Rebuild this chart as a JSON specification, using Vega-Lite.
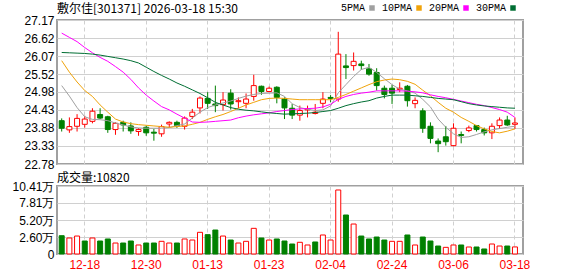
{
  "$schema": "https://vega.github.io/schema/vega-lite/v6.json",
  "padding": {"left": 6, "top": 2, "right": 0, "bottom": 0},
  "background": "#ffffff",
  "spacing": 0,
  "config": {
    "view": {"stroke": "#a0a0a0", "strokeWidth": 2},
    "font": "Liberation Sans",
    "axis": {"gridColor": "#d0d0d0", "gridWidth": 1, "domain": false, "ticks": false, "labelColor": "#000000", "labelFontSize": 12, "labelFont": "Liberation Sans", "labelFlush": false, "labelOverlap": false}
  },
  "datasets": {
    "k": [
      {"t":"12-15","o":24.10,"h":24.17,"l":23.77,"c":23.87,"v":28000,"vd":"down","5PMA":25.17,"10PMA":25.93,"20PMA":26.77,"30PMA":26.18},
      {"t":"12-16","o":23.82,"h":24.20,"l":23.73,"c":23.92,"v":24500,"vd":"up","5PMA":24.85,"10PMA":25.58,"20PMA":26.64,"30PMA":26.17},
      {"t":"12-17","o":23.93,"h":24.30,"l":23.77,"c":24.17,"v":27500,"vd":"up","5PMA":24.50,"10PMA":25.28,"20PMA":26.51,"30PMA":26.16},
      {"t":"12-18","o":23.99,"h":24.25,"l":23.89,"c":24.15,"v":19900,"vd":"down","5PMA":24.22,"10PMA":25.02,"20PMA":26.33,"30PMA":26.15},
      {"t":"12-19","o":24.08,"h":24.48,"l":24.02,"c":24.39,"v":24500,"vd":"up","5PMA":24.14,"10PMA":24.84,"20PMA":26.17,"30PMA":26.13},
      {"t":"12-22","o":24.29,"h":24.48,"l":24.15,"c":24.18,"v":19900,"vd":"down","5PMA":24.13,"10PMA":24.58,"20PMA":26.03,"30PMA":26.10},
      {"t":"12-23","o":24.22,"h":24.25,"l":23.73,"c":23.83,"v":23000,"vd":"down","5PMA":24.10,"10PMA":24.36,"20PMA":25.91,"30PMA":26.06},
      {"t":"12-24","o":23.83,"h":24.05,"l":23.67,"c":24.02,"v":16800,"vd":"up","5PMA":24.03,"10PMA":24.15,"20PMA":25.75,"30PMA":26.02},
      {"t":"12-25","o":24.05,"h":24.10,"l":23.77,"c":23.97,"v":16800,"vd":"down","5PMA":23.97,"10PMA":24.06,"20PMA":25.58,"30PMA":25.98},
      {"t":"12-26","o":23.94,"h":24.05,"l":23.70,"c":23.79,"v":19900,"vd":"down","5PMA":23.91,"10PMA":24.01,"20PMA":25.36,"30PMA":25.93},
      {"t":"12-29","o":23.77,"h":23.87,"l":23.64,"c":23.83,"v":13800,"vd":"up","5PMA":23.88,"10PMA":23.98,"20PMA":25.10,"30PMA":25.86},
      {"t":"12-30","o":23.90,"h":23.95,"l":23.64,"c":23.73,"v":16800,"vd":"down","5PMA":23.87,"10PMA":23.96,"20PMA":24.88,"30PMA":25.73},
      {"t":"12-31","o":23.75,"h":23.85,"l":23.49,"c":23.72,"v":16800,"vd":"down","5PMA":23.87,"10PMA":23.94,"20PMA":24.70,"30PMA":25.60},
      {"t":"01-05","o":23.70,"h":23.98,"l":23.61,"c":23.92,"v":19400,"vd":"up","5PMA":23.87,"10PMA":23.92,"20PMA":24.53,"30PMA":25.48},
      {"t":"01-06","o":24.00,"h":24.08,"l":23.89,"c":24.05,"v":16800,"vd":"up","5PMA":23.89,"10PMA":23.90,"20PMA":24.43,"30PMA":25.37},
      {"t":"01-07","o":24.05,"h":24.10,"l":23.88,"c":23.95,"v":16800,"vd":"down","5PMA":23.95,"10PMA":23.92,"20PMA":24.30,"30PMA":25.25},
      {"t":"01-08","o":23.93,"h":24.23,"l":23.83,"c":24.18,"v":23000,"vd":"up","5PMA":24.00,"10PMA":23.94,"20PMA":24.18,"30PMA":25.15},
      {"t":"01-09","o":24.23,"h":24.46,"l":24.15,"c":24.36,"v":21400,"vd":"up","5PMA":24.18,"10PMA":23.99,"20PMA":24.06,"30PMA":25.04},
      {"t":"01-12","o":24.49,"h":24.84,"l":24.32,"c":24.79,"v":33200,"vd":"up","5PMA":24.36,"10PMA":24.05,"20PMA":24.05,"30PMA":24.93},
      {"t":"01-13","o":24.78,"h":24.97,"l":24.46,"c":24.63,"v":29600,"vd":"down","5PMA":24.50,"10PMA":24.14,"20PMA":24.06,"30PMA":24.80},
      {"t":"01-14","o":24.61,"h":25.17,"l":24.36,"c":24.56,"v":36700,"vd":"down","5PMA":24.58,"10PMA":24.22,"20PMA":24.08,"30PMA":24.66},
      {"t":"01-15","o":24.59,"h":24.97,"l":24.41,"c":24.73,"v":27500,"vd":"up","5PMA":24.64,"10PMA":24.29,"20PMA":24.10,"30PMA":24.58},
      {"t":"01-16","o":24.94,"h":25.06,"l":24.44,"c":24.61,"v":21400,"vd":"down","5PMA":24.70,"10PMA":24.38,"20PMA":24.12,"30PMA":24.50},
      {"t":"01-19","o":24.68,"h":24.81,"l":24.48,"c":24.71,"v":16800,"vd":"up","5PMA":24.78,"10PMA":24.48,"20PMA":24.19,"30PMA":24.45},
      {"t":"01-20","o":24.63,"h":24.93,"l":24.48,"c":24.76,"v":19400,"vd":"up","5PMA":24.85,"10PMA":24.58,"20PMA":24.24,"30PMA":24.42},
      {"t":"01-21","o":24.84,"h":25.50,"l":24.71,"c":25.17,"v":39300,"vd":"up","5PMA":24.90,"10PMA":24.66,"20PMA":24.28,"30PMA":24.40},
      {"t":"01-22","o":25.15,"h":25.17,"l":24.89,"c":24.99,"v":24500,"vd":"down","5PMA":24.93,"10PMA":24.74,"20PMA":24.31,"30PMA":24.37},
      {"t":"01-23","o":24.99,"h":25.14,"l":24.97,"c":25.09,"v":21400,"vd":"up","5PMA":24.94,"10PMA":24.78,"20PMA":24.34,"30PMA":24.34},
      {"t":"01-26","o":25.12,"h":25.15,"l":24.63,"c":24.81,"v":23000,"vd":"down","5PMA":24.95,"10PMA":24.79,"20PMA":24.38,"30PMA":24.32},
      {"t":"01-27","o":24.76,"h":24.81,"l":24.15,"c":24.49,"v":19900,"vd":"down","5PMA":24.84,"10PMA":24.78,"20PMA":24.41,"30PMA":24.30},
      {"t":"01-28","o":24.48,"h":24.61,"l":24.15,"c":24.27,"v":15300,"vd":"down","5PMA":24.62,"10PMA":24.76,"20PMA":24.44,"30PMA":24.31},
      {"t":"01-29","o":24.27,"h":24.56,"l":24.10,"c":24.41,"v":17900,"vd":"up","5PMA":24.50,"10PMA":24.74,"20PMA":24.46,"30PMA":24.32},
      {"t":"01-30","o":24.43,"h":24.56,"l":24.20,"c":24.46,"v":13800,"vd":"up","5PMA":24.45,"10PMA":24.74,"20PMA":24.47,"30PMA":24.33},
      {"t":"02-02","o":24.32,"h":24.61,"l":24.29,"c":24.36,"v":18400,"vd":"down","5PMA":24.41,"10PMA":24.74,"20PMA":24.48,"30PMA":24.35},
      {"t":"02-03","o":24.63,"h":24.97,"l":24.48,"c":24.76,"v":29100,"vd":"up","5PMA":24.43,"10PMA":24.74,"20PMA":24.52,"30PMA":24.38},
      {"t":"02-04","o":24.81,"h":24.88,"l":24.66,"c":24.78,"v":21400,"vd":"up","5PMA":24.55,"10PMA":24.74,"20PMA":24.60,"30PMA":24.41},
      {"t":"02-05","o":24.76,"h":26.81,"l":24.68,"c":26.13,"v":98000,"vd":"up","5PMA":24.95,"10PMA":24.81,"20PMA":24.75,"30PMA":24.48},
      {"t":"02-06","o":25.77,"h":26.13,"l":25.37,"c":25.72,"v":59700,"vd":"down","5PMA":25.20,"10PMA":24.90,"20PMA":24.84,"30PMA":24.56},
      {"t":"02-09","o":25.78,"h":26.18,"l":25.63,"c":25.91,"v":45900,"vd":"up","5PMA":25.45,"10PMA":25.00,"20PMA":24.90,"30PMA":24.62},
      {"t":"02-10","o":25.83,"h":25.93,"l":25.65,"c":25.78,"v":27500,"vd":"down","5PMA":25.66,"10PMA":25.10,"20PMA":24.94,"30PMA":24.67},
      {"t":"02-11","o":25.68,"h":25.83,"l":25.47,"c":25.52,"v":23000,"vd":"down","5PMA":25.73,"10PMA":25.20,"20PMA":24.97,"30PMA":24.71},
      {"t":"02-12","o":25.57,"h":25.70,"l":25.02,"c":25.17,"v":26000,"vd":"down","5PMA":25.57,"10PMA":25.29,"20PMA":25.01,"30PMA":24.79},
      {"t":"02-13","o":25.09,"h":25.17,"l":24.78,"c":24.90,"v":21400,"vd":"down","5PMA":25.38,"10PMA":25.34,"20PMA":25.01,"30PMA":24.84},
      {"t":"02-24","o":25.09,"h":25.19,"l":24.61,"c":24.94,"v":19400,"vd":"up","5PMA":25.20,"10PMA":25.37,"20PMA":25.01,"30PMA":24.88},
      {"t":"02-25","o":25.05,"h":25.27,"l":24.97,"c":25.09,"v":19400,"vd":"up","5PMA":25.06,"10PMA":25.35,"20PMA":25.01,"30PMA":24.88},
      {"t":"02-26","o":25.15,"h":25.19,"l":24.53,"c":24.71,"v":29100,"vd":"down","5PMA":25.01,"10PMA":25.30,"20PMA":25.00,"30PMA":24.88},
      {"t":"02-27","o":24.62,"h":24.81,"l":24.48,"c":24.72,"v":13800,"vd":"up","5PMA":24.94,"10PMA":25.21,"20PMA":24.98,"30PMA":24.86},
      {"t":"03-02","o":24.40,"h":24.48,"l":23.73,"c":23.87,"v":26000,"vd":"down","5PMA":24.75,"10PMA":25.03,"20PMA":24.95,"30PMA":24.84},
      {"t":"03-03","o":23.93,"h":24.05,"l":23.41,"c":23.56,"v":19900,"vd":"down","5PMA":24.52,"10PMA":24.86,"20PMA":24.89,"30PMA":24.81},
      {"t":"03-04","o":23.48,"h":23.56,"l":23.14,"c":23.40,"v":12200,"vd":"down","5PMA":24.15,"10PMA":24.66,"20PMA":24.84,"30PMA":24.78},
      {"t":"03-05","o":23.61,"h":23.94,"l":23.34,"c":23.46,"v":10200,"vd":"up","5PMA":23.90,"10PMA":24.48,"20PMA":24.80,"30PMA":24.76},
      {"t":"03-06","o":23.34,"h":24.02,"l":23.32,"c":23.87,"v":13800,"vd":"up","5PMA":23.70,"10PMA":24.36,"20PMA":24.75,"30PMA":24.74},
      {"t":"03-09","o":23.68,"h":23.77,"l":23.41,"c":23.65,"v":13800,"vd":"down","5PMA":23.59,"10PMA":24.20,"20PMA":24.70,"30PMA":24.68},
      {"t":"03-10","o":23.80,"h":23.95,"l":23.75,"c":23.88,"v":10700,"vd":"up","5PMA":23.61,"10PMA":24.08,"20PMA":24.65,"30PMA":24.62},
      {"t":"03-11","o":23.95,"h":23.97,"l":23.77,"c":23.83,"v":10700,"vd":"down","5PMA":23.68,"10PMA":23.95,"20PMA":24.60,"30PMA":24.58},
      {"t":"03-12","o":23.83,"h":23.89,"l":23.65,"c":23.73,"v":7700,"vd":"down","5PMA":23.76,"10PMA":23.85,"20PMA":24.56,"30PMA":24.55},
      {"t":"03-13","o":23.73,"h":24.02,"l":23.54,"c":23.93,"v":15300,"vd":"up","5PMA":23.82,"10PMA":23.77,"20PMA":24.50,"30PMA":24.53},
      {"t":"03-16","o":23.95,"h":24.20,"l":23.85,"c":24.12,"v":12200,"vd":"up","5PMA":23.86,"10PMA":23.73,"20PMA":24.44,"30PMA":24.51},
      {"t":"03-17","o":24.12,"h":24.25,"l":23.94,"c":23.97,"v":12200,"vd":"down","5PMA":23.90,"10PMA":23.78,"20PMA":24.36,"30PMA":24.49},
      {"t":"03-18","o":23.99,"h":24.20,"l":23.85,"c":24.03,"v":10820,"vd":"up","5PMA":23.93,"10PMA":23.85,"20PMA":24.20,"30PMA":24.48}
    ]
  },
  "vconcat": [
    {
      "width": 466,
      "height": 144,
      "data": {"name": "k"},
      "title": {"text": "敷尔佳[301371] 2026-03-18 15:30", "anchor": "start", "frame": "group", "fontSize": 12, "fontWeight": "normal", "font": "Noto Sans CJK SC", "color": "#000000", "offset": -2},
      "encoding": {
        "x": {"field": "t", "type": "ordinal", "sort": null,
          "scale": {"paddingInner": 0, "paddingOuter": 0.33, "align": 0.17},
          "axis": {"values": ["12-18","12-30","01-13","01-23","02-04","02-24","03-06","03-18"], "labels": false, "ticks": false, "domain": false, "grid": true, "gridDash": [4, 3], "title": null, "minExtent": 0, "maxExtent": 0}}
      },
      "layer": [
        {
          "mark": {"type": "rule", "strokeWidth": 1},
          "encoding": {
            "y": {"field": "l", "type": "quantitative", "scale": {"domain": [22.78, 27.17], "zero": false, "nice": false},
              "axis": {"values": [22.78, 23.33, 23.88, 24.43, 24.98, 25.52, 26.07, 26.62, 27.17], "tickCount": 20, "format": ".2f", "grid": true, "title": null, "labelPadding": 3, "labelOverlap": false, "labelBound": false, "minExtent": 50, "maxExtent": 50}},
            "y2": {"field": "h"},
            "color": {"condition": {"test": "datum.c >= datum.o", "value": "#ff0000"}, "value": "#008000"}
          }
        },
        {
          "mark": {"type": "bar", "width": {"band": 0.65}, "strokeWidth": 1},
          "encoding": {
            "y": {"field": "o", "type": "quantitative"},
            "y2": {"field": "c"},
            "fill": {"condition": {"test": "datum.c >= datum.o", "value": "#ffffff"}, "value": "#008000"},
            "stroke": {"condition": {"test": "datum.c >= datum.o", "value": "#ff0000"}, "value": "#008000"}
          }
        },
        {
          "transform": [{"fold": ["5PMA", "10PMA", "20PMA", "30PMA"], "as": ["ma", "val"]}],
          "mark": {"type": "line", "strokeWidth": 1},
          "encoding": {
            "y": {"field": "val", "type": "quantitative"},
            "color": {"field": "ma", "type": "nominal",
              "scale": {"domain": ["5PMA", "10PMA", "20PMA", "30PMA"], "range": ["#a0a0a0", "#f0a30a", "#ff00ff", "#006e33"]},
              "legend": {"orient": "none", "legendX": 310, "legendY": -17, "direction": "horizontal", "title": null,
                "symbolType": "square", "symbolSize": 30, "labelFontSize": 10, "labelFont": "Liberation Mono", "labelColor": "#000000",
                "labelAlign": "right", "labelOffset": -12, "columnPadding": 6,
                "encode": {"symbols": {"update": {"fill": {"scale": "color", "field": "value"}, "strokeWidth": {"value": 0}}}}}
            }
          }
        }
      ]
    },
    {
      "width": 466,
      "height": 68,
      "data": {"name": "k"},
      "title": {"text": "成交量:10820", "anchor": "start", "frame": "group", "fontSize": 12, "fontWeight": "normal", "font": "Noto Sans CJK SC", "color": "#000000", "offset": -5},
      "mark": {"type": "bar", "width": {"band": 0.65}, "strokeWidth": 1},
      "encoding": {
        "x": {"field": "t", "type": "ordinal", "sort": null,
          "scale": {"paddingInner": 0, "paddingOuter": 0.33, "align": 0.17},
          "axis": {"values": ["12-18","12-30","01-13","01-23","02-04","02-24","03-06","03-18"], "grid": true, "gridDash": [4, 3], "labelColor": "#ff0000", "labelAngle": 0, "labelPadding": 5, "title": null, "ticks": false, "domain": false}},
        "y": {"field": "v", "type": "quantitative", "scale": {"domain": [0, 104100], "nice": false},
          "axis": {"values": [0, 26000, 52000, 78100, 104100], "tickCount": 20, "labelExpr": "datum.value == 0 ? '0' : format(datum.value / 10000, '.2f') + '万'", "grid": true, "title": null, "labelPadding": 3, "labelOverlap": false, "labelBound": false, "minExtent": 50, "maxExtent": 50}},
        "fill": {"condition": {"test": "datum.vd == 'up'", "value": "#ffffff"}, "value": "#008000"},
        "stroke": {"condition": {"test": "datum.vd == 'up'", "value": "#ff0000"}, "value": "#008000"}
      }
    }
  ]
}
